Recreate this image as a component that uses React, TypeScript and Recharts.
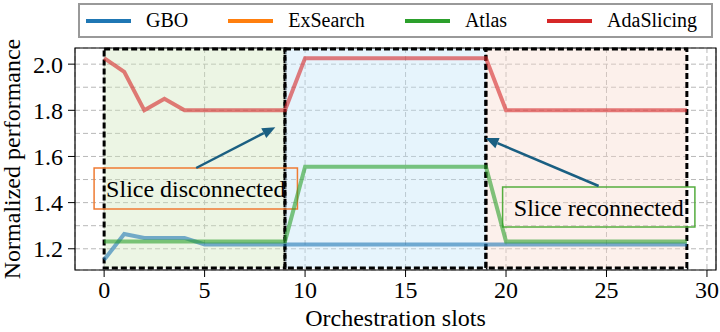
import { LineChart, Line, XAxis, YAxis, CartesianGrid, ReferenceArea, ReferenceLine, Label } from 'recharts'

const FONT = '"Liberation Serif", "Times New Roman", "DejaVu Serif", serif'

const SLOTS = [0, 1, 2, 3, 4, 5, 6, 7, 8, 9, 10, 11, 12, 13, 14, 15, 16, 17, 18, 19, 20, 21, 22, 23, 24, 25, 26, 27, 28, 29]

const GBO = [1.152, 1.264, 1.247, 1.247, 1.247, 1.219, 1.219, 1.219, 1.219, 1.219,
  1.219, 1.219, 1.219, 1.219, 1.219, 1.219, 1.219, 1.219, 1.219, 1.219,
  1.219, 1.219, 1.219, 1.219, 1.219, 1.219, 1.219, 1.219, 1.219, 1.219]
// ExSearch is in the legend but no line of it shows in the plot
const EX_SEARCH: (number | null)[] = SLOTS.map(() => null)
const ATLAS = [1.232, 1.232, 1.232, 1.232, 1.232, 1.232, 1.232, 1.232, 1.232, 1.232,
  1.555, 1.555, 1.555, 1.555, 1.555, 1.555, 1.555, 1.555, 1.555, 1.555,
  1.232, 1.232, 1.232, 1.232, 1.232, 1.232, 1.232, 1.232, 1.232, 1.232]
const ADA_SLICING = [2.026, 1.967, 1.8, 1.85, 1.8, 1.8, 1.8, 1.8, 1.8, 1.8,
  2.026, 2.026, 2.026, 2.026, 2.026, 2.026, 2.026, 2.026, 2.026, 2.026,
  1.8, 1.8, 1.8, 1.8, 1.8, 1.8, 1.8, 1.8, 1.8, 1.8]

const X_TICKS = [0, 5, 10, 15, 20, 25, 30]
const Y_TICKS = [1.2, 1.3, 1.4, 1.5, 1.6, 1.7, 1.8, 1.9, 2.0]
const X_DOMAIN = [-1.45, 30.45]
const Y_DOMAIN = [1.108, 2.07]

// phases: [start, end]
const PHASES = [
  { x1: 0, x2: 9, fill: '#cfe6bb' },
  { x1: 9, x2: 19, fill: '#c0e4f8' },
  { x1: 19, x2: 29, fill: '#f8d9cd' },
]

const SERIES = [
  { key: 'gbo', name: 'GBO', color: '#1f77b4' },
  { key: 'exSearch', name: 'ExSearch', color: '#ff7f0e' },
  { key: 'atlas', name: 'Atlas', color: '#2ca02c' },
  { key: 'ada', name: 'AdaSlicing', color: '#d62728' },
]

const data = SLOTS.map((slot, i) => ({
  slot,
  gbo: GBO[i],
  exSearch: EX_SEARCH[i],
  atlas: ATLAS[i],
  ada: ADA_SLICING[i],
}))

const ARROW = '#1a5f82'

function Arrow(props: any) {
  const { x1, y1, x2, y2 } = props
  const ang = Math.atan2(y2 - y1, x2 - x1)
  const len = 13
  const half = 5.5
  const bx = x2 - len * Math.cos(ang)
  const by = y2 - len * Math.sin(ang)
  const px = -Math.sin(ang) * half
  const py = Math.cos(ang) * half
  return (
    <g>
      <line x1={x1} y1={y1} x2={bx} y2={by} stroke={ARROW} strokeWidth={2.5} />
      <polygon points={`${x2},${y2} ${bx + px},${by + py} ${bx - px},${by - py}`} fill={ARROW} />
    </g>
  )
}

function YTitle(props: any) {
  const { viewBox } = props
  const cx = viewBox.x + 20
  const cy = viewBox.y + viewBox.height / 2
  return (
    <text x={cx} y={cy} transform={`rotate(-90, ${cx}, ${cy})`} textAnchor="middle" fontSize={24} fontFamily={FONT} fill="#000">
      Normalized performance
    </text>
  )
}

function LegendBox() {
  return (
    <div style={{
      position: 'absolute', left: 78, top: 3, width: 635, height: 35, boxSizing: 'border-box',
      border: '2px solid #999', background: '#fff', display: 'flex', alignItems: 'center',
      paddingLeft: 6, fontFamily: FONT, fontSize: 20, color: '#000',
    }}>
      {SERIES.map((s, i) => (
        <div key={s.key} style={{ display: 'flex', alignItems: 'center', marginRight: i < SERIES.length - 1 ? 40 : 0 }}>
          <div style={{ width: 45, height: 4, background: s.color, marginRight: 15 }} />
          <span style={{ whiteSpace: 'nowrap' }}>{s.name}</span>
        </div>
      ))}
    </div>
  )
}

export default function App() {
  return (
    <div style={{ position: 'absolute', left: 0, top: 0, width: 720, height: 332 }}>
      <LineChart width={720} height={332} data={data} margin={{ top: 48, right: 4, bottom: 0, left: 0 }} style={{ fontFamily: FONT }}>
        <CartesianGrid stroke="#b8b8b8" strokeDasharray="5 3" strokeWidth={1} />
        <XAxis
          dataKey="slot"
          type="number"
          domain={X_DOMAIN}
          ticks={X_TICKS}
          allowDataOverflow
          height={62}
          axisLine={false}
          tickLine={{ stroke: '#000' }}
          tickSize={7}
          tickMargin={4}
          tick={{ fill: '#000', fontSize: 24, fontFamily: FONT }}
        >
          <Label value="Orchestration slots" position="insideBottom" offset={6} fill="#000" fontSize={24} fontFamily={FONT} />
        </XAxis>
        <YAxis
          type="number"
          domain={Y_DOMAIN}
          ticks={Y_TICKS}
          allowDataOverflow
          width={75}
          axisLine={false}
          tickLine={{ stroke: '#000' }}
          tickSize={7}
          tickMargin={5}
          tickFormatter={(v: number) => v.toFixed(1)}
          tick={{ fill: '#000', fontSize: 24, fontFamily: FONT }}
        >
          <Label content={<YTitle />} />
        </YAxis>

        {PHASES.map((p) => (
          <ReferenceArea
            key={p.x1}
            x1={p.x1}
            x2={p.x2}
            y1={1.117}
            y2={2.066}
            fill={p.fill}
            fillOpacity={0.4}
            stroke="#000"
            strokeWidth={3}
            strokeDasharray="6 3"
            ifOverflow="visible"
          />
        ))}

        {SERIES.map((s) => (
          <Line
            key={s.key}
            type="linear"
            dataKey={s.key}
            name={s.name}
            stroke={s.color}
            strokeWidth={4}
            strokeOpacity={0.6}
            dot={false}
            activeDot={false}
            isAnimationActive={false}
          />
        ))}

        <ReferenceArea x1={-0.5} x2={9.62} y1={1.372} y2={1.55} fill="none" stroke="#ef7b33" strokeWidth={1.5} ifOverflow="visible">
          <Label value="Slice disconnected" position="center" fill="#000" fontSize={24} fontFamily={FONT} />
        </ReferenceArea>
        <ReferenceArea x1={19.83} x2={29.4} y1={1.294} y2={1.4675} fill="none" stroke="#55ad3f" strokeWidth={1.5} ifOverflow="visible">
          <Label value="Slice reconnected" position="center" fill="#000" fontSize={24} fontFamily={FONT} />
        </ReferenceArea>
        <ReferenceLine segment={[{ x: 4.58, y: 1.55 }, { x: 8.52, y: 1.727 }]} shape={Arrow} ifOverflow="visible" />
        <ReferenceLine segment={[{ x: 24.61, y: 1.472 }, { x: 18.98, y: 1.68 }]} shape={Arrow} ifOverflow="visible" />

        <ReferenceArea x1={X_DOMAIN[0]} x2={X_DOMAIN[1]} y1={Y_DOMAIN[0]} y2={Y_DOMAIN[1]} fill="none" stroke="#000" strokeWidth={1.2} ifOverflow="visible" />
      </LineChart>
      <LegendBox />
    </div>
  )
}
